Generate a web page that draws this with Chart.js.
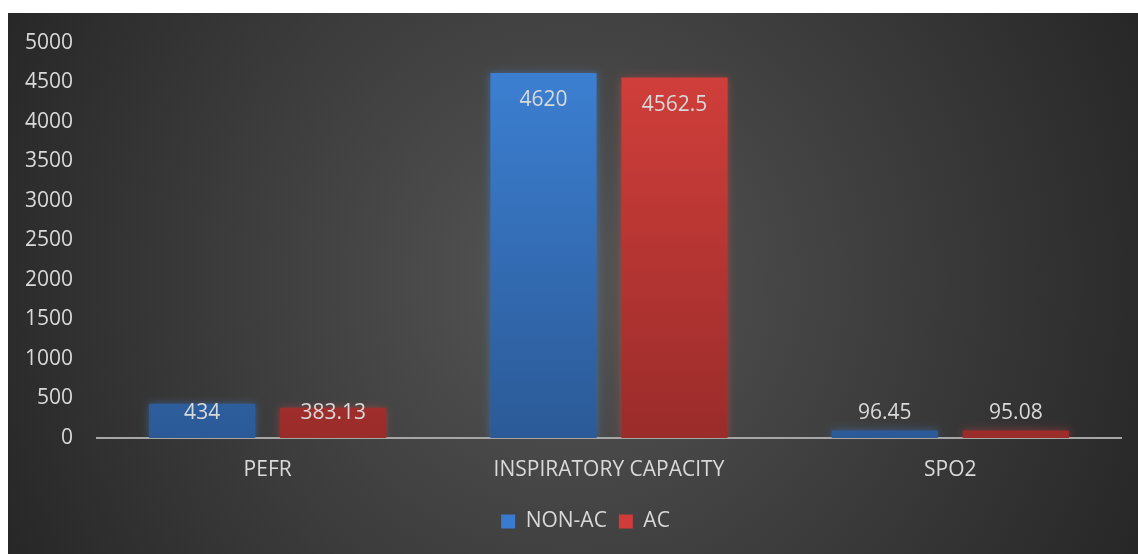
<!DOCTYPE html>
<html>
<head>
<meta charset="utf-8">
<script src="https://cdn.jsdelivr.net/npm/chart.js@4"></script>
<style>
html,body{margin:0;padding:0;background:#fff;}
#wrap{width:1138px;height:554px;}
</style>
</head>
<body>
<div id="wrap"><canvas id="c" width="1138" height="554"></canvas></div>
<script>
const categories = ["PEFR", "INSPIRATORY CAPACITY", "SPO2"];
const nonAcValues = [434, 4620, 96.45];
const acValues = [383.13, 4562.5, 95.08];
const valueLabelsNonAc = ["434", "4620", "96.45"];
const valueLabelsAc = ["383.13", "4562.5", "95.08"];
const seriesNames = ["NON-AC", "AC"];

const FONT = "'Open Sans', sans-serif";
const TXT = "#d9d9d9";

function grad(top, bottom) {
  return function(ctx) {
    const ch = ctx.chart;
    const a = ch.chartArea;
    if (!a) return top;
    const g = ch.ctx.createLinearGradient(0, a.top, 0, a.bottom);
    g.addColorStop(0, top);
    g.addColorStop(1, bottom);
    return g;
  };
}

const bgPlugin = {
  id: 'bg',
  beforeDraw(chart) {
    const c = chart.ctx;
    c.save();
    c.fillStyle = '#ffffff';
    c.fillRect(0, 0, chart.width, chart.height);
    const g = c.createRadialGradient(570, 280, 0, 570, 280, 640);
    g.addColorStop(0, '#555555');
    g.addColorStop(1, '#262626');
    c.fillStyle = g;
    c.fillRect(8, 13, chart.width - 8, chart.height - 13);
    c.restore();
  }
};

const legendShift = {
  id: 'legendShift',
  afterLayout(chart) {
    const lg = chart.legend;
    if (lg) { lg.left += 25; lg.right += 25; }
  }
};

const shadowPlugin = {
  id: 'shadow',
  beforeDatasetDraw(chart, args) {
    const c = chart.ctx;
    c.save();
    c.shadowColor = args.index === 0 ? 'rgba(70,140,230,0.45)' : 'rgba(230,70,70,0.45)';
    c.shadowBlur = 8;
  },
  afterDatasetDraw(chart) {
    chart.ctx.restore();
  }
};

const labelPlugin = {
  id: 'vlabels',
  afterDatasetsDraw(chart) {
    const c = chart.ctx;
    const texts = [valueLabelsNonAc, valueLabelsAc];
    c.save();
    c.font = "21px " + FONT;
    c.fillStyle = TXT;
    c.textAlign = 'center';
    c.textBaseline = 'middle';
    chart.data.datasets.forEach((ds, di) => {
      const meta = chart.getDatasetMeta(di);
      meta.data.forEach((bar, i) => {
        const y = Math.min(bar.y + 27, bar.base - 25);
        c.fillText(texts[di][i], bar.x, y);
      });
    });
    c.restore();
  }
};

new Chart(document.getElementById('c'), {
  type: 'bar',
  data: {
    labels: categories,
    datasets: [
      { label: seriesNames[0], data: nonAcValues, backgroundColor: grad('#3d82d6', '#2b5a97'), legendColor: '#3a7bd0' },
      { label: seriesNames[1], data: acValues, backgroundColor: grad('#d5403c', '#9a2c2a'), legendColor: '#cf3c39' }
    ]
  },
  options: {
    responsive: false,
    animation: false,
    devicePixelRatio: 1,
    categoryPercentage: 0.768,
    barPercentage: 0.81,
    layout: { padding: { top: 43, right: 17, bottom: 12, left: 0 } },
    plugins: {
      legend: {
        position: 'bottom',
        labels: {
          color: TXT,
          font: { family: FONT, size: 21 },
          boxWidth: 14,
          boxHeight: 14,
          padding: 12,
          generateLabels(chart) {
            return chart.data.datasets.map((d, i) => ({
              text: d.label, fillStyle: d.legendColor, strokeStyle: d.legendColor,
              lineWidth: 0, datasetIndex: i, fontColor: TXT
            }));
          }
        }
      },
      tooltip: { enabled: false }
    },
    scales: {
      x: {
        grid: { display: false, drawTicks: false },
        border: { display: true, color: '#a6a6a6', width: 2 },
        ticks: { color: TXT, font: { family: FONT, size: 21 }, padding: 19 },
        afterFit(s) { s.height = 61; }
      },
      y: {
        min: 0, max: 5000,
        grid: { display: false, drawTicks: false },
        border: { display: false },
        ticks: { stepSize: 500, color: TXT, font: { family: FONT, size: 21 }, padding: 24,
                 callback: v => String(v) },
        afterFit(s) { s.width = 97; }
      }
    }
  },
  plugins: [bgPlugin, legendShift, shadowPlugin, labelPlugin]
});
</script>
</body>
</html>
